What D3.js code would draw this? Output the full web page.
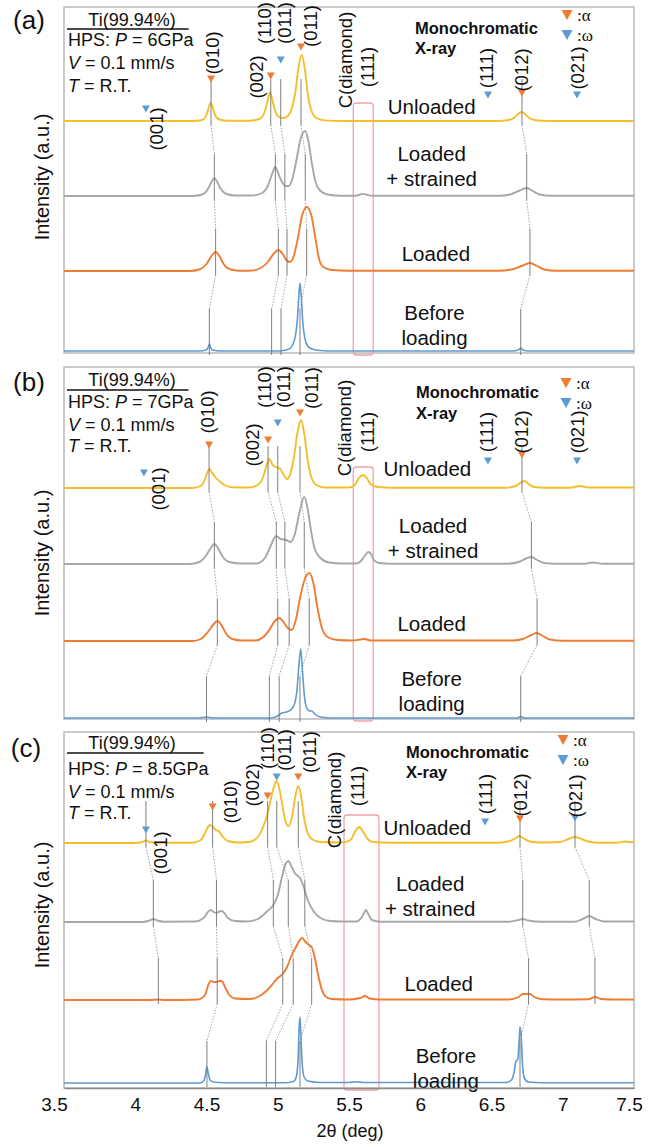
<!DOCTYPE html>
<html>
<head>
<meta charset="utf-8">
<script src="https://cdn.jsdelivr.net/npm/d3@7"></script>
<style>
  body { margin: 0; background: #fff; }
  svg { display: block; font-family: "Liberation Sans", Arial, sans-serif; }
</style>
</head>
<body>
<svg id="chart" width="648" height="1147"></svg>
<script>
// ---------- data ----------
const xTicks = [3.5, 4, 4.5, 5, 5.5, 6, 6.5, 7, 7.5];
const panelTags = ["(a)", "(b)", "(c)"];
const sample = "Ti(99.94%)";
const pressures = ["6GPa", "7GPa", "8.5GPa"];
const speed = "0.1 mm/s";
const temperature = "R.T.";
const stateNames = [["Unloaded"], ["Loaded", "+ strained"], ["Loaded"], ["Before", "loading"]];
const stateColors = ["#f3bf2c", "#a8a8a8", "#ee7d33", "#5e9bd3"];
const phaseColors = { "α": "#ee7d33", "ω": "#5e9bd3" };

// diffraction profiles: [2θ (deg), intensity (a.u.)]
// P = 6 GPa
const unloadedA = [[3.5,0],[4.40,0],[4.47,1],[4.50,6],[4.515,13],[4.529,18],[4.545,13],[4.56,6],[4.59,1.5],[4.65,0.3],[4.80,0.3],[4.87,2],[4.905,8],[4.925,18],[4.946,29],[4.965,19],[4.985,9],[5.01,4],[5.04,3],[5.07,5],[5.10,13],[5.125,30],[5.145,53],[5.168,66],[5.19,52],[5.21,28],[5.235,11],[5.27,3],[5.33,0.6],[5.45,0],[6.55,0],[6.62,1],[6.66,3.5],[6.69,7.5],[6.712,9],[6.735,7],[6.765,3],[6.81,0.8],[6.9,0],[7.5,0]];
const strainedA = [[3.5,0],[4.40,0],[4.47,1.5],[4.51,7],[4.535,14],[4.555,18],[4.575,14],[4.60,7],[4.64,2],[4.70,0.5],[4.82,0.5],[4.89,3],[4.93,10],[4.96,22],[4.983,29],[5.005,22],[5.03,14],[5.055,10],[5.077,10],[5.10,16],[5.13,35],[5.16,57],[5.193,65],[5.215,55],[5.24,32],[5.265,14],[5.30,5],[5.35,1.5],[5.45,0.3],[5.55,0.3],[5.59,2],[5.62,1.5],[5.66,0.3],[6.55,0.3],[6.63,1.5],[6.69,5],[6.747,8],[6.79,5],[6.84,1.5],[6.92,0.3],[7.5,0.3]];
const loadedA = [[3.5,0],[4.38,0],[4.45,1.5],[4.50,7],[4.535,15],[4.564,19],[4.59,15],[4.62,7],[4.67,1.5],[4.74,0.3],[4.82,0.5],[4.88,3],[4.93,9],[4.97,17],[5.004,21],[5.035,17],[5.06,11],[5.086,9],[5.11,14],[5.14,32],[5.17,55],[5.203,64],[5.235,56],[5.265,32],[5.29,12],[5.32,4],[5.38,1],[5.50,0.3],[6.55,0.3],[6.64,1.5],[6.71,5],[6.77,8],[6.82,5],[6.87,1.5],[6.95,0.3],[7.5,0.3]];
const beforeA = [[3.5,0],[4.45,0],[4.50,1],[4.512,4],[4.52,7],[4.528,4],[4.54,1],[4.60,0],[5.00,0],[5.06,1],[5.09,3],[5.11,8],[5.125,16],[5.138,32],[5.148,55],[5.156,68],[5.165,55],[5.175,30],[5.19,13],[5.21,5],[5.24,2],[5.30,0.5],[5.40,0],[6.65,0],[6.69,1],[6.705,3],[6.72,1],[6.76,0],[7.5,0]];
// P = 7 GPa
const unloadedB = [[3.5,0],[4.40,0],[4.46,2],[4.49,9],[4.505,15],[4.52,19],[4.54,15],[4.56,11],[4.59,7],[4.63,2.5],[4.68,0.8],[4.80,0.5],[4.86,3],[4.90,12],[4.92,22],[4.941,29],[4.96,24],[4.985,21],[5.01,20],[5.035,15],[5.055,10],[5.067,9],[5.09,15],[5.115,32],[5.14,57],[5.163,68],[5.185,55],[5.21,28],[5.235,11],[5.27,3],[5.33,0.5],[5.50,0.5],[5.54,3],[5.57,10],[5.60,13],[5.625,10],[5.65,4],[5.70,1],[5.80,0.3],[6.60,0.3],[6.67,2],[6.70,5],[6.73,7],[6.76,4],[6.80,1],[6.88,0.3],[7.05,0.3],[7.12,2],[7.18,0.5],[7.5,0.5]];
const strainedB = [[3.5,0],[4.38,0],[4.45,2],[4.50,9],[4.53,16],[4.555,20],[4.58,16],[4.61,8],[4.66,2],[4.74,0.5],[4.85,0.5],[4.91,6],[4.95,18],[4.988,28],[5.02,25],[5.058,24],[5.09,22],[5.12,30],[5.15,50],[5.186,67],[5.21,55],[5.235,32],[5.26,15],[5.30,6],[5.36,1.5],[5.45,0.5],[5.55,0.5],[5.59,4],[5.615,9],[5.635,12],[5.655,10],[5.675,4],[5.71,1],[5.80,0.3],[6.62,0.3],[6.70,2.5],[6.75,6],[6.78,7],[6.82,4],[6.87,1],[6.95,0.3],[7.15,0.3],[7.21,1.5],[7.28,0.3],[7.5,0.3]];
const loadedB = [[3.5,0],[4.40,0],[4.46,2],[4.51,9],[4.545,16],[4.576,20],[4.605,16],[4.635,8],[4.68,2],[4.75,0.5],[4.84,0.5],[4.90,4],[4.945,12],[4.98,20],[5.01,23],[5.04,19],[5.07,13],[5.098,11],[5.125,20],[5.155,42],[5.19,62],[5.221,68],[5.25,58],[5.28,32],[5.31,13],[5.35,4],[5.42,1],[5.52,0.5],[5.58,1.5],[5.61,2],[5.65,0.5],[6.65,0.5],[6.72,2],[6.78,6],[6.817,8],[6.86,5],[6.91,1.5],[7.00,0.3],[7.5,0.3]];
const beforeB = [[3.5,0],[4.45,0],[4.50,1],[4.55,0],[4.95,0],[5.00,2],[5.028,5],[5.06,6],[5.09,8],[5.115,13],[5.135,28],[5.148,52],[5.161,69],[5.172,50],[5.185,25],[5.20,11],[5.225,7],[5.238,7],[5.26,4],[5.30,1],[5.38,0],[6.68,0],[6.705,1.5],[6.73,0],[7.5,0]];
// P = 8.5 GPa
const unloadedC = [[3.5,0],[4.00,0],[4.05,1],[4.075,2.5],[4.10,1],[4.15,0.3],[4.40,0.3],[4.46,3],[4.49,10],[4.51,16],[4.525,18],[4.545,16],[4.565,13],[4.585,12],[4.61,7],[4.65,2],[4.72,0.5],[4.80,1],[4.86,6],[4.90,17],[4.93,30],[4.955,46],[4.975,57],[4.99,62],[5.005,58],[5.03,40],[5.05,24],[5.074,17],[5.10,26],[5.12,44],[5.144,57],[5.165,46],[5.185,25],[5.21,10],[5.25,3],[5.30,1],[5.45,0.5],[5.51,3],[5.545,12],[5.572,16],[5.60,11],[5.63,4],[5.67,1],[5.80,0.3],[6.55,0.3],[6.63,2],[6.67,5],[6.695,7],[6.72,5],[6.77,1.5],[6.85,0.5],[6.98,1],[7.04,4],[7.086,6],[7.13,4],[7.18,1.5],[7.25,0.3],[7.38,0.3],[7.43,1.5],[7.47,1],[7.5,1]];
const strainedC = [[3.5,0],[4.05,0],[4.10,1.5],[4.127,3],[4.155,1.5],[4.20,0.3],[4.42,0.5],[4.48,4],[4.51,10],[4.53,12],[4.55,10],[4.57,9],[4.59,10.5],[4.607,11],[4.625,9],[4.65,4],[4.70,1],[4.78,0.5],[4.86,3],[4.92,10],[4.969,17],[5.00,27],[5.03,45],[5.055,58],[5.074,61],[5.095,56],[5.12,49],[5.14,46],[5.156,44],[5.18,36],[5.21,22],[5.25,11],[5.30,4],[5.37,1],[5.45,0.5],[5.55,0.5],[5.59,5],[5.605,9],[5.619,12],[5.635,8],[5.66,2],[5.72,0.3],[6.62,0.3],[6.69,2],[6.719,3],[6.76,1.5],[6.85,0.3],[7.08,0.3],[7.14,3],[7.186,6],[7.23,3],[7.29,0.5],[7.5,0.5]];
const loadedC = [[3.5,0],[4.10,0],[4.162,0.5],[4.20,0],[4.44,0.5],[4.49,5],[4.51,14],[4.53,19],[4.55,18],[4.57,18],[4.59,19],[4.607,19],[4.63,13],[4.66,5],[4.70,1.5],[4.80,1],[4.86,3],[4.92,9],[4.97,17],[5.00,22],[5.035,26],[5.065,33],[5.09,42],[5.109,48],[5.135,55],[5.155,60],[5.172,62],[5.195,58],[5.22,55],[5.238,53],[5.26,42],[5.285,24],[5.31,10],[5.34,3],[5.38,1],[5.50,0.5],[5.58,2],[5.612,4],[5.645,1.5],[5.72,0.5],[6.62,0.5],[6.69,3],[6.72,6],[6.77,6],[6.80,3],[6.86,0.8],[7.00,0.5],[7.18,0.8],[7.226,3],[7.27,1],[7.35,0.5],[7.5,0.5]];
const beforeC = [[3.5,0],[4.45,0],[4.48,2],[4.495,10],[4.503,16],[4.512,10],[4.525,3],[4.55,1],[4.62,0.3],[5.05,0.3],[5.11,1.5],[5.13,6],[5.143,25],[5.15,55],[5.156,66],[5.162,50],[5.17,22],[5.185,6],[5.21,2],[5.30,0.5],[5.50,0.5],[5.55,1.2],[5.60,0.5],[6.60,0.5],[6.64,3],[6.66,12],[6.67,21],[6.685,24],[6.695,45],[6.70,56],[6.708,48],[6.718,18],[6.73,5],[6.76,1],[6.85,0.3],[7.5,0.3]];

const spectra = [
  [unloadedA, strainedA, loadedA, beforeA],
  [unloadedB, strainedB, loadedB, beforeB],
  [unloadedC, strainedC, loadedC, beforeC]
];
// vertical stacking offsets (a.u.) of each profile
const offsetsA = [232, 157, 82, 2];
const offsetsB = [231, 155, 78, 1];
const offsetsC = [245, 166, 88, 5];
const offsets = [offsetsA, offsetsB, offsetsC];

// phase markers: [2θ, a.u., phase]
const markersA = [[4.075,244,"ω"],[4.532,274,"α"],[4.951,277,"α"],[5.021,293,"ω"],[5.163,306,"α"],[6.475,258,"ω"],[6.714,260,"α"],[7.10,258,"ω"]];
const markersB = [[4.061,246,"ω"],[4.518,274,"α"],[4.932,279,"α"],[5.000,296,"ω"],[5.156,306,"α"],[6.475,258,"ω"],[6.714,264,"α"],[7.10,258,"ω"]];
const markersC = [[4.075,258,"ω"],[4.543,281,"α"],[4.929,292,"α"],[4.993,311,"ω"],[5.144,311,"α"],[6.455,266,"ω"],[6.70,269,"α"],[7.086,270,"ω"]];
const markers = [markersA, markersB, markersC];

// reflection labels: [text, 2θ, a.u.]
const hklA = [["(001)",4.152,224],["(010)",4.539,300],["(002)",4.854,276],["(110)",4.91,330],["(011)",5.05,330],["(011)",5.233,327],["C(diamond)",5.472,293],["(111)",5.633,286],["(111)",6.468,285],["(012)",6.714,283],["(021)",7.10,285]];
const hklB = [["(001)",4.16,230],["(010)",4.51,307],["(002)",4.82,274],["(110)",4.91,332],["(011)",5.037,332],["(011)",5.24,331],["C(diamond)",5.47,291],["(111)",5.633,287],["(111)",6.468,287],["(012)",6.714,287],["(021)",7.10,287]];
const hklC = [["(001)",4.18,235],["(010)",4.665,286],["(002)",4.826,303],["(110)",4.93,340],["(011)",5.044,338],["(011)",5.226,336],["C(diamond)",5.40,288],["(111)",5.563,302],["(111)",6.455,294],["(012)",6.70,293],["(021)",7.086,292]];
const hkl = [hklA, hklB, hklC];

// peak tracks across the four states (Unloaded, Loaded+strained, Loaded, Before loading)
const tracksA = [[4.532,4.555,4.564,4.52],[4.951,4.983,5.004,4.957],[5.021,5.05,5.065,5.023],[5.163,5.193,5.203,5.156],[6.714,6.747,6.77,6.705]];
const tracksB = [[4.518,4.555,4.576,4.50],[4.932,4.99,5.00,4.941],[5.00,5.05,5.08,5.01],[5.156,5.186,5.221,5.156],[6.714,6.78,6.82,6.705]];
const tracksC = [[4.075,4.127,4.162,null],[4.543,4.57,4.575,4.503],[4.929,4.969,5.035,4.92],[4.993,5.074,5.109,4.985],[5.144,5.19,5.238,5.156],[6.70,6.719,6.76,6.70],[7.086,7.186,7.226,null]];
const tracks = [tracksA, tracksB, tracksC];

// C(diamond)(111) window: [2θ from, 2θ to, a.u. top]
const diamondWindow = [[5.53,5.67,250],[5.53,5.67,252],[5.465,5.71,273]];

// state label anchors: [2θ, a.u.] for each state
const stateLabelPos = [
  [[6.08,247],[6.08,200],[6.11,100],[6.10,41]],
  [[6.05,251],[6.09,194],[6.08,96],[6.08,41]],
  [[6.05,261],[6.07,205],[6.13,105],[6.18,33]]
];

// ---------- layout ----------
const svg = d3.select("#chart");
const X0 = 64, X1 = 634;
const x = d3.scaleLinear().domain([3.5, 7.5]).range([X0, X1]);
const panels = [
  { top: 7,   bottom: 353,  tag: [29, 20],  info: [13, 33, 56, 79], rule: 22, mono: [415, 21, 41], legend: [567, 8, 28],  ylab: 177 },
  { top: 367, bottom: 719,  tag: [29, 382], info: [13, 35, 58, 79], rule: 23, mono: [416, 25, 46], legend: [566, 16, 36], ylab: 553 },
  { top: 732, bottom: 1088, tag: [26, 748], info: [11, 37, 60, 81], rule: 21, mono: [406, 20, 40], legend: [563, 8, 28],  ylab: 905 }
];
// horizontal nudges of the outermost tick labels
const tickNudge = { 3.5: -10, 7.5: -5 };

const tri = (w, h) => `M${-w/2},${-h/2}L${w/2},${-h/2}L0,${h/2}Z`;

panels.forEach((p, i) => {
  const g = svg.append("g");
  const y = d3.scaleLinear().domain([0, p.bottom - p.top]).range([p.bottom, p.top]);
  const off = offsets[i];

  const clipId = "clip" + i;
  svg.append("clipPath").attr("id", clipId)
    .append("rect").attr("x", X0).attr("y", p.top).attr("width", X1 - X0).attr("height", p.bottom - p.top + 4);

  // frame
  g.append("rect").attr("x", X0).attr("y", p.top).attr("width", X1 - X0).attr("height", p.bottom - p.top)
    .attr("fill", "none").attr("stroke", "#b9b9b9").attr("stroke-width", 1.5);

  // diamond window
  const dw = diamondWindow[i];
  g.append("rect").attr("x", x(dw[0])).attr("y", y(dw[2]))
    .attr("width", x(dw[1]) - x(dw[0])).attr("height", y(-2) - y(dw[2]))
    .attr("rx", 3).attr("fill", "none").attr("stroke", "#f3a3a6").attr("stroke-width", 1.3);

  // profiles
  const line = d3.line().curve(d3.curveMonotoneX);
  const curves = g.append("g").attr("clip-path", `url(#${clipId})`);
  spectra[i].forEach((s, k) => {
    curves.append("path")
      .attr("d", line(s.map(d => [x(d[0]), y(off[k] + d[1])])))
      .attr("fill", "none").attr("stroke", stateColors[k])
      .attr("stroke-width", k === 3 ? 1.6 : 1.9).attr("stroke-linejoin", "round");
  });

  // peak tracks
  const tg = g.append("g").attr("clip-path", `url(#${clipId})`);
  tracks[i].forEach(t => {
    t.forEach((pos, k) => {
      if (pos == null) return;
      tg.append("line").attr("x1", x(pos)).attr("x2", x(pos))
        .attr("y1", y(off[k] + 42)).attr("y2", y(off[k] - 4))
        .attr("stroke", "#707070").attr("stroke-width", 0.9);
      const next = t[k + 1];
      if (k < 3 && next != null) {
        tg.append("line").attr("x1", x(pos)).attr("y1", y(off[k] - 4))
          .attr("x2", x(next)).attr("y2", y(off[k + 1] + 42))
          .attr("stroke", "#8c8c8c").attr("stroke-width", 0.8).attr("stroke-dasharray", "1.5,1.5");
      }
    });
  });

  // phase markers
  markers[i].forEach(m => {
    g.append("path").attr("d", tri(8, 7))
      .attr("transform", `translate(${x(m[0])},${y(m[1])})`)
      .attr("fill", phaseColors[m[2]]);
  });

  // reflection labels (rotated)
  hkl[i].forEach(h => {
    g.append("text").attr("transform", `translate(${x(h[1])},${y(h[2])}) rotate(-90)`)
      .attr("text-anchor", "middle").attr("dominant-baseline", "central")
      .attr("font-size", 18.5).attr("fill", "#111").text(h[0]);
  });

  // state labels
  stateNames.forEach((names, k) => {
    const pos = stateLabelPos[i][k];
    names.forEach((nm, j) => {
      g.append("text").attr("x", x(pos[0])).attr("y", y(pos[1]) + j * 25)
        .attr("text-anchor", "middle").attr("dominant-baseline", "central")
        .attr("font-size", 20.5).attr("fill", "#111").text(nm);
    });
  });

  // panel tag
  g.append("text").attr("x", p.tag[0]).attr("y", p.tag[1])
    .attr("text-anchor", "middle").attr("dominant-baseline", "central")
    .attr("font-size", 26).attr("fill", "#111").text(panelTags[i]);

  // sample / condition block
  const info = g.append("g").attr("font-size", 18).attr("fill", "#111");
  info.append("text").attr("x", 132).attr("y", p.top + p.info[0])
    .attr("text-anchor", "middle").attr("dominant-baseline", "central").text(sample);
  const hps = info.append("text").attr("x", 68).attr("y", p.top + p.info[1]).attr("dominant-baseline", "central");
  hps.append("tspan").text("HPS: ");
  hps.append("tspan").attr("font-style", "italic").text("P");
  hps.append("tspan").text(" = " + pressures[i]);
  const v = info.append("text").attr("x", 68).attr("y", p.top + p.info[2]).attr("dominant-baseline", "central");
  v.append("tspan").attr("font-style", "italic").text("V");
  v.append("tspan").text(" = " + speed);
  const tt = info.append("text").attr("x", 68).attr("y", p.top + p.info[3]).attr("dominant-baseline", "central");
  tt.append("tspan").attr("font-style", "italic").text("T");
  tt.append("tspan").text(" = " + temperature);
  const hpsW = hps.node().getComputedTextLength();
  info.append("line").attr("x1", 67).attr("x2", 68 + hpsW - 5)
    .attr("y1", p.top + p.rule).attr("y2", p.top + p.rule)
    .attr("stroke", "#111").attr("stroke-width", 1.3);

  // beam note
  g.append("text").attr("x", p.mono[0]).attr("y", p.top + p.mono[1]).attr("dominant-baseline", "central")
    .attr("font-size", 16.5).attr("font-weight", "bold").attr("fill", "#111").text("Monochromatic");
  g.append("text").attr("x", p.mono[0]).attr("y", p.top + p.mono[2]).attr("dominant-baseline", "central")
    .attr("font-size", 16.5).attr("font-weight", "bold").attr("fill", "#111").text("X-ray");

  // phase legend
  ["α", "ω"].forEach((ph, k) => {
    const cy = p.top + p.legend[1 + k];
    g.append("path").attr("d", tri(11, 10)).attr("transform", `translate(${p.legend[0]},${cy})`)
      .attr("fill", phaseColors[ph]);
    g.append("text").attr("x", p.legend[0] + 10).attr("y", cy).attr("dominant-baseline", "central")
      .attr("font-family", "'Liberation Serif', 'DejaVu Serif', serif").attr("font-size", 17)
      .attr("fill", "#111").text(":" + ph);
  });

  // y title
  g.append("text").attr("transform", `translate(42,${p.ylab}) rotate(-90)`)
    .attr("text-anchor", "middle").attr("dominant-baseline", "central")
    .attr("font-size", 20).attr("fill", "#111").text("Intensity (a.u.)");

  // x axis on the bottom panel
  if (i === 2) {
    const ax = g.append("g").attr("transform", `translate(0,${p.bottom})`)
      .call(d3.axisBottom(x).tickValues(xTicks).tickSize(0).tickPadding(10).tickFormat(d3.format("")));
    ax.select(".domain").attr("stroke", "#8a8a8a").attr("stroke-width", 1.5);
    ax.selectAll("text").attr("font-size", 19).attr("fill", "#111")
      .attr("font-family", "'Liberation Sans', Arial, sans-serif")
      .attr("dx", d => tickNudge[d] || 0);
    g.append("text").attr("x", 350).attr("y", 1131)
      .attr("text-anchor", "middle").attr("dominant-baseline", "central")
      .attr("font-size", 18).attr("fill", "#111").text("2θ (deg)");
  }
});
</script>
</body>
</html>
